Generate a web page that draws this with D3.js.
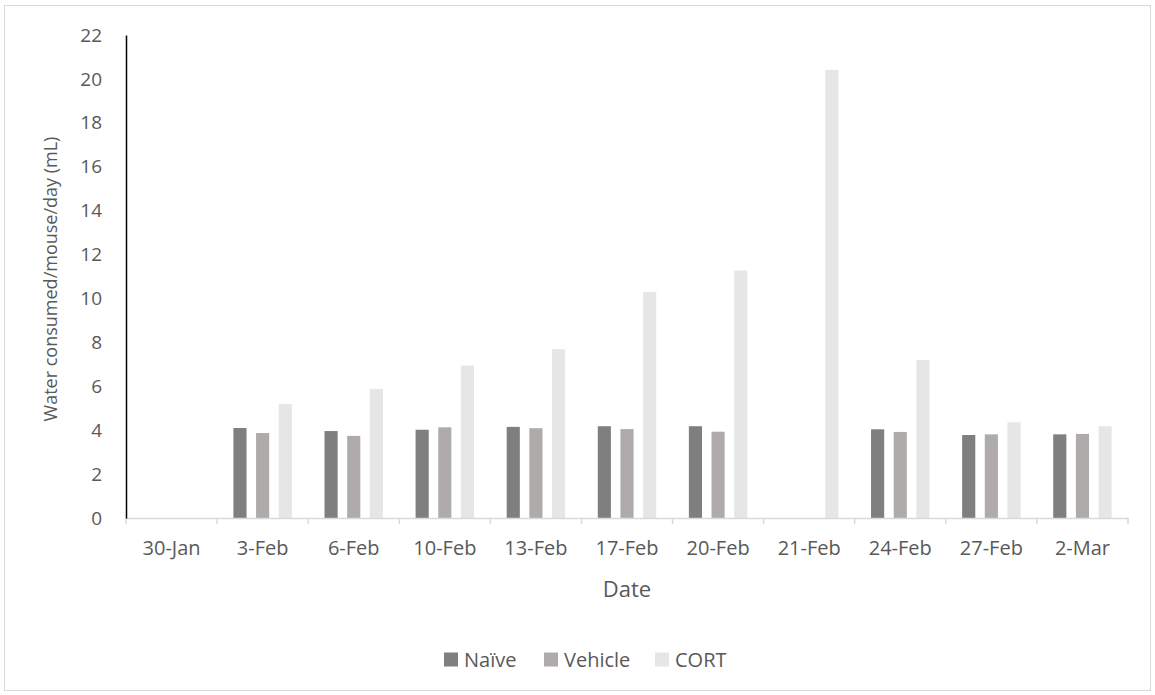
<!DOCTYPE html>
<html>
<head>
<meta charset="utf-8">
<script src="https://cdn.jsdelivr.net/npm/d3@7/dist/d3.min.js"></script>
<style>
  html, body { margin: 0; padding: 0; background: #fff; }
  svg text { font-family: "Open Sans", "Noto Sans", sans-serif; fill: #595959; }
</style>
</head>
<body>
<svg id="chart" width="1155" height="695"></svg>
<script>
// Daily water intake per mouse, by treatment group
const dates   = ["30-Jan", "3-Feb", "6-Feb", "10-Feb", "13-Feb", "17-Feb", "20-Feb", "21-Feb", "24-Feb", "27-Feb", "2-Mar"];
const naive   = [0, 4.10, 3.96, 4.02, 4.15, 4.18, 4.18, 0, 4.04, 3.78, 3.81];
const vehicle = [0, 3.87, 3.74, 4.13, 4.09, 4.05, 3.93, 0, 3.92, 3.81, 3.83];
const cort    = [0, 5.19, 5.88, 6.94, 7.69, 10.30, 11.27, 20.41, 7.20, 4.36, 4.18];
const seriesNames = ["Naïve", "Vehicle", "CORT"];
const seriesColors = ["#7f7f7f", "#afabab", "#e7e6e6"];
const yTicks = [0, 2, 4, 6, 8, 10, 12, 14, 16, 18, 20, 22];

const seriesValues = [naive, vehicle, cort];
const rows = dates.map((d, i) => ({ date: d, values: seriesValues.map(s => s[i]) }));

const svg = d3.select("#chart");
const W = 1155, H = 695;
const margin = { left: 126, right: 27, top: 35, bottom: 177 };
const plotW = W - margin.left - margin.right;
const plotH = H - margin.top - margin.bottom;

// outer chart frame
svg.append("rect")
  .attr("x", 4.5).attr("y", 5.5)
  .attr("width", W - 9).attr("height", H - 10)
  .attr("fill", "#fff").attr("stroke", "#d9d9d9").attr("stroke-width", 1);

const g = svg.append("g").attr("transform", `translate(${margin.left},${margin.top})`);

const x = d3.scaleBand().domain(dates).range([0, plotW]).paddingInner(0).paddingOuter(0);
const x1 = d3.scaleBand().domain(seriesNames).range([0, x.bandwidth()]).paddingInner(0.42).paddingOuter(0.72);
const y = d3.scaleLinear().domain([0, 22]).range([plotH, 0]);

// bars
const groups = g.selectAll("g.cat").data(rows).join("g")
  .attr("class", "cat")
  .attr("transform", d => `translate(${x(d.date)},0)`);

groups.selectAll("rect")
  .data(d => d.values.map((v, k) => ({ name: seriesNames[k], v, k })))
  .join("rect")
  .attr("x", d => x1(d.name))
  .attr("width", x1.bandwidth())
  .attr("y", d => y(d.v))
  .attr("height", d => plotH - y(d.v))
  .attr("fill", d => seriesColors[d.k]);

// x axis
const xAxis = g.append("g")
  .attr("transform", `translate(0,${plotH})`)
  .call(d3.axisBottom(x).tickSize(0).tickPadding(23));
xAxis.select(".domain").attr("stroke", "#d9d9d9").attr("stroke-width", 1.5);
xAxis.selectAll("text").attr("font-size", 20).attr("fill", "#595959");

// category boundary ticks
const bounds = dates.map(d => x(d)).concat([plotW]);
g.append("g").selectAll("line").data(bounds).join("line")
  .attr("x1", d => d).attr("x2", d => d)
  .attr("y1", plotH).attr("y2", plotH + 6)
  .attr("stroke", "#d9d9d9").attr("stroke-width", 1.5);

// y axis
const yAxis = g.append("g")
  .call(d3.axisLeft(y).tickValues(yTicks).tickSize(0).tickPadding(24));
yAxis.select(".domain").attr("stroke", "#000").attr("stroke-width", 1.5);
yAxis.selectAll("text").attr("font-size", 19).attr("fill", "#595959");

// axis titles
svg.append("text")
  .attr("transform", `translate(57,${279}) rotate(-90)`)
  .attr("text-anchor", "middle")
  .attr("font-size", 18)
  .text("Water consumed/mouse/day (mL)");

svg.append("text")
  .attr("x", margin.left + plotW / 2).attr("y", 597)
  .attr("text-anchor", "middle")
  .attr("font-size", 22)
  .text("Date");

// legend
const legendX = [444, 544, 655];
const legend = svg.append("g").selectAll("g").data(seriesNames).join("g")
  .attr("transform", (d, i) => `translate(${legendX[i]},659.5)`);
legend.append("rect")
  .attr("x", 0).attr("y", -7).attr("width", 14).attr("height", 14)
  .attr("fill", (d, i) => seriesColors[i]);
legend.append("text")
  .attr("x", 20).attr("y", 0)
  .attr("dominant-baseline", "central")
  .attr("font-size", 20)
  .text(d => d);
</script>
</body>
</html>
